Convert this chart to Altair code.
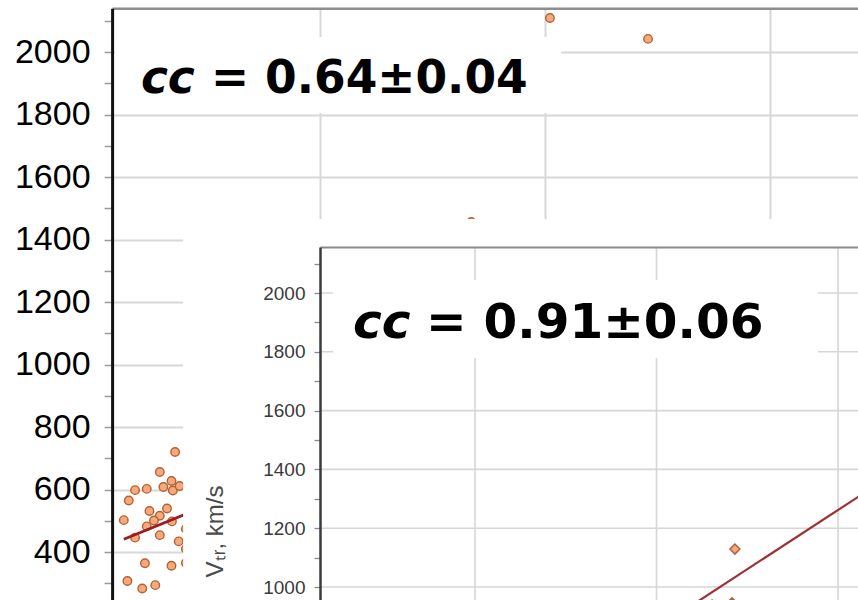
import altair as alt
import pandas as pd

# ---- outer panel: full sample (circles) -------------------------------
main_x = [178, 144, 170, 152, 173, 188, 89, 115, 75, 121, 160, 144, 131, 171,
          115, 64, 89, 144, 186, 202, 202, 111, 170, 202, 72, 105, 134,
          1011, 1229, 836]
main_y = [720, 656, 627, 608, 597, 611, 598, 602, 565, 531, 539, 516, 501, 498,
          482, 502, 446, 454, 434, 474, 410, 364, 356, 365, 307, 283, 294,
          2109, 2042, 1456]
main_fit_x = [64, 1000]
main_fit_y = [441, 987]

# ---- inset panel: subsample (diamonds) --------------------------------
inset_x = [1216, 1208, 1153]
inset_y = [1129, 946, 939]
inset_fit_x = [1000, 1700]
inset_fit_y = [859, 1423]

# ---- ticks and labels ---------------------------------------------------
main_y_ticks = list(range(300, 2101, 100))
inset_y_ticks = list(range(700, 2101, 100))
x_grid_values = [500, 1000, 1500]
inset_y_grid = [1000, 1200, 1400, 1600, 1800, 2000]

main_cc = ["cc", "= 0.64±0.04"]
inset_cc = ["cc", "= 0.91±0.06"]
inset_y_title = "Vₜᵣ, km/s"

# ---- scales: each panel owns a pair of linear scales --------------------
MX = alt.Scale(domain=[38, 2000], range=[112.1, 995], nice=False, zero=False)
MY = alt.Scale(domain=[200, 2140], range=[614.5, 8.25], nice=False, zero=False)
IX = alt.Scale(domain=[73, 2000], range=[320.0, 1019.5], nice=False, zero=False)
IY = alt.Scale(domain=[700, 2156.5], range=[675.2, 247.0], nice=False, zero=False)

LABEL_EVEN = "datum.value % 200 === 0 ? datum.label : ''"

MAIN_X_AXIS = alt.Axis(orient="top", offset=-8.25, values=x_grid_values,
                       labels=False, ticks=False, domain=True,
                       domainColor="#8d8d8d", domainWidth=2.5,
                       grid=True, gridColor="#d8d8d8", gridWidth=2,
                       title=None, zindex=0)
MAIN_Y_AXIS = alt.Axis(orient="left", offset=-112.1, values=main_y_ticks,
                       format="d", labelExpr=LABEL_EVEN, labelOverlap=False,
                       labelFont="Liberation Sans", labelFontSize=34,
                       labelColor="#000000", labelPadding=14,
                       tickSize=8, tickColor="#9a9a9a", tickWidth=1.5,
                       domainColor="#111111", domainWidth=3,
                       grid=True, gridColor="#d8d8d8", gridWidth=2,
                       gridOpacity={"condition": {"test": "datum.value % 200 === 0", "value": 1},
                                    "value": 0},
                       title=None, zindex=0)
INSET_X_AXIS = alt.Axis(orient="top", offset=-247, values=x_grid_values,
                        labels=False, ticks=False, domain=True,
                        domainColor="#8a8a8a", domainWidth=2,
                        grid=False, title=None, zindex=1)
INSET_Y_AXIS = alt.Axis(orient="left", offset=-320, values=inset_y_ticks,
                        format="d", labelExpr=LABEL_EVEN, labelOverlap=False,
                        labelFont="Liberation Sans", labelFontSize=19,
                        labelColor="#3a3a3a", labelPadding=9,
                        tickSize=6, tickColor="#8a8a8a", tickWidth=1.3,
                        domainColor="#3a3a3a", domainWidth=2.5,
                        grid=False,
                        title=inset_y_title, titleFont="Liberation Sans",
                        titleFontSize=24, titleFontWeight="normal",
                        titleColor="#4a4a4a", titleAngle=270,
                        titleAlign="center", titleBaseline="alphabetic",
                        titleX=-98, titleY=531, zindex=1)


def mx(field):
    return alt.X(field, type="quantitative", scale=MX, axis=MAIN_X_AXIS)


def my(field):
    return alt.Y(field, type="quantitative", scale=MY, axis=MAIN_Y_AXIS)


def ix(field):
    return alt.X(field, type="quantitative", scale=IX, axis=INSET_X_AXIS)


def iy(field):
    return alt.Y(field, type="quantitative", scale=IY, axis=INSET_Y_AXIS)


POINT_FILL = "#f6a97f"
POINT_STROKE = "#b5622e"

# ---- outer panel layers --------------------------------------------------
main_pts = alt.Chart(pd.DataFrame({"x": main_x, "y": main_y})).mark_circle(
    size=72, fill=POINT_FILL, stroke=POINT_STROKE, strokeWidth=1.4, opacity=1
).encode(x=mx("x"), y=my("y"))

main_fit = alt.Chart(pd.DataFrame({"x": main_fit_x, "y": main_fit_y})).mark_line(
    color="#9e1b1f", strokeWidth=2.8
).encode(x=mx("x"), y=my("y"))

main_box = alt.Chart(pd.DataFrame({"x0": [44], "x1": [1036], "y0": [1805], "y1": [2048]})).mark_rect(
    fill="white"
).encode(x=mx("x0"), x2="x1", y=my("y0"), y2="y1")

main_cc_it = alt.Chart(pd.DataFrame({"x": [102], "y": [1869], "t": [main_cc[0]]})).mark_text(
    align="left", baseline="alphabetic", font="DejaVu Sans", fontSize=45.5,
    fontWeight="bold", fontStyle="italic", color="#000000"
).encode(x=mx("x"), y=my("y"), text="t:N")

main_cc_val = alt.Chart(pd.DataFrame({"x": [258], "y": [1869], "t": [main_cc[1]]})).mark_text(
    align="left", baseline="alphabetic", font="DejaVu Sans", fontSize=45.5,
    fontWeight="bold", color="#000000"
).encode(x=mx("x"), y=my("y"), text="t:N")

main_panel = alt.layer(main_pts, main_fit, main_box, main_cc_it, main_cc_val)

# ---- inset panel layers --------------------------------------------------
inset_bg = alt.Chart(pd.DataFrame({"x0": [-304], "x1": [1700], "y0": [600], "y1": [2252]})).mark_rect(
    fill="white"
).encode(x=ix("x0"), x2="x1", y=iy("y0"), y2="y1")

inset_hgrid = alt.Chart(pd.DataFrame({"y": inset_y_grid, "x0": 73, "x1": 2000})).mark_rule(
    color="#d6d6d6", strokeWidth=1.6
).encode(x=ix("x0"), x2="x1", y=iy("y"))

inset_vgrid = alt.Chart(pd.DataFrame({"x": x_grid_values, "y0": 700, "y1": 2156.5})).mark_rule(
    color="#d6d6d6", strokeWidth=1.6
).encode(x=ix("x"), y=iy("y0"), y2="y1")

inset_pts = alt.Chart(pd.DataFrame({"x": inset_x, "y": inset_y})).mark_point(
    shape="diamond", filled=True, size=100, fill=POINT_FILL,
    stroke="#a9643a", strokeWidth=1.5, opacity=1
).encode(x=ix("x"), y=iy("y"))

inset_fit = alt.Chart(pd.DataFrame({"x": inset_fit_x, "y": inset_fit_y})).mark_line(
    color="#a03035", strokeWidth=2.2
).encode(x=ix("x"), y=iy("y"))

inset_box = alt.Chart(pd.DataFrame({"x0": [109], "x1": [1445], "y0": [1779], "y1": [2044]})).mark_rect(
    fill="white"
).encode(x=ix("x0"), x2="x1", y=iy("y0"), y2="y1")

inset_cc_it = alt.Chart(pd.DataFrame({"x": [164], "y": [1847], "t": [inset_cc[0]]})).mark_text(
    align="left", baseline="alphabetic", font="DejaVu Sans", fontSize=48.5,
    fontWeight="bold", fontStyle="italic", color="#000000"
).encode(x=ix("x"), y=iy("y"), text="t:N")

inset_cc_val = alt.Chart(pd.DataFrame({"x": [365], "y": [1847], "t": [inset_cc[1]]})).mark_text(
    align="left", baseline="alphabetic", font="DejaVu Sans", fontSize=48.5,
    fontWeight="bold", color="#000000"
).encode(x=ix("x"), y=iy("y"), text="t:N")

inset_panel = alt.layer(inset_bg, inset_hgrid, inset_vgrid, inset_fit, inset_pts,
                        inset_box, inset_cc_it, inset_cc_val)

chart = alt.layer(main_panel, inset_panel).resolve_scale(
    x="independent", y="independent"
).properties(
    width=858, height=600,
    autosize=alt.AutoSizeParams(type="none"),
    padding=0,
    background="white",
).configure_view(stroke=None)

chart.save("out.html", embed_options={"renderer": "svg", "actions": False})
